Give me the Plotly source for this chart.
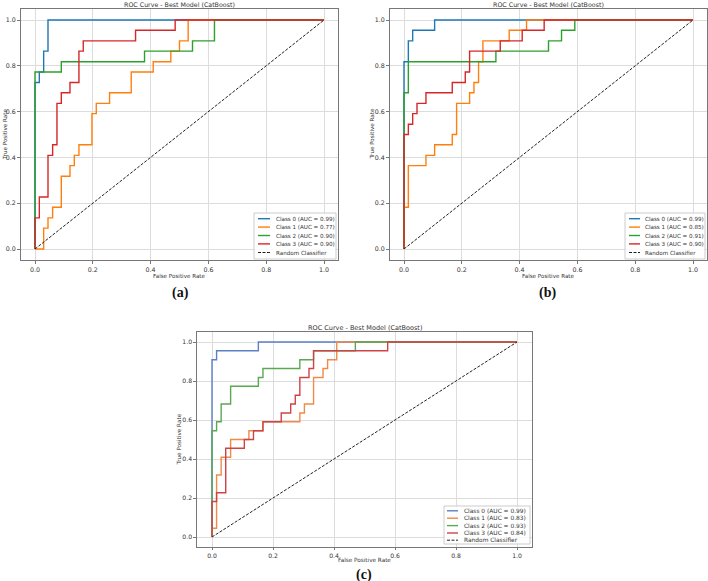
import plotly.graph_objects as go

W, H = 708, 581

# ---------------- data ----------------
CLASS_NAMES = ["Class 0", "Class 1", "Class 2", "Class 3"]
TICKS = [0.0, 0.2, 0.4, 0.6, 0.8, 1.0]
TICK_LABELS = ["0.0", "0.2", "0.4", "0.6", "0.8", "1.0"]

# panel (a)
A_AUC = [0.99, 0.77, 0.90, 0.90]
A_C0_FPR = [0, 0, 0.015, 0.030, 0.045, 1.0]
A_C0_TPR = [0, 0.727, 0.773, 0.864, 1.0, 1.0]
A_C1_FPR = [0, 0.030, 0.045, 0.061, 0.091, 0.121, 0.136, 0.152, 0.197, 0.212, 0.258, 0.333, 0.409, 0.470, 0.500, 0.530, 1.0]
A_C1_TPR = [0, 0.091, 0.136, 0.182, 0.318, 0.364, 0.409, 0.455, 0.591, 0.636, 0.682, 0.773, 0.818, 0.864, 0.909, 1.0, 1.0]
A_C2_FPR = [0, 0, 0.091, 0.379, 0.545, 0.621, 1.0]
A_C2_TPR = [0, 0.773, 0.818, 0.864, 0.909, 1.0, 1.0]
A_C3_FPR = [0, 0, 0.015, 0.045, 0.061, 0.076, 0.091, 0.121, 0.152, 0.167, 0.348, 0.485, 1.0]
A_C3_TPR = [0, 0.136, 0.227, 0.409, 0.455, 0.636, 0.682, 0.727, 0.864, 0.909, 0.955, 1.0, 1.0]

# panel (b)
B_AUC = [0.99, 0.85, 0.91, 0.90]
B_C0_FPR = [0, 0, 0.015, 0.030, 0.106, 1.0]
B_C0_TPR = [0, 0.818, 0.909, 0.955, 1.0, 1.0]
B_C1_FPR = [0, 0, 0.015, 0.076, 0.106, 0.167, 0.182, 0.227, 0.242, 0.258, 0.273, 0.364, 0.424, 1.0]
B_C1_TPR = [0, 0.182, 0.364, 0.409, 0.455, 0.500, 0.636, 0.682, 0.727, 0.818, 0.909, 0.955, 1.0, 1.0]
B_C2_FPR = [0, 0, 0.015, 0.318, 0.500, 0.545, 0.591, 1.0]
B_C2_TPR = [0, 0.682, 0.818, 0.864, 0.909, 0.955, 1.0, 1.0]
B_C3_FPR = [0, 0, 0.015, 0.030, 0.045, 0.076, 0.167, 0.212, 0.227, 0.333, 0.409, 0.485, 1.0]
B_C3_TPR = [0, 0.500, 0.545, 0.591, 0.636, 0.682, 0.727, 0.773, 0.864, 0.909, 0.955, 1.0, 1.0]

# panel (c)
C_AUC = [0.99, 0.83, 0.93, 0.84]
C_C0_FPR = [0, 0, 0.015, 0.152, 1.0]
C_C0_TPR = [0, 0.909, 0.955, 1.0, 1.0]
C_C1_FPR = [0, 0, 0.015, 0.030, 0.061, 0.121, 0.167, 0.288, 0.303, 0.333, 0.364, 0.379, 0.409, 1.0]
C_C1_TPR = [0, 0.045, 0.318, 0.409, 0.500, 0.545, 0.591, 0.636, 0.682, 0.818, 0.864, 0.909, 1.0, 1.0]
C_C2_FPR = [0, 0, 0.015, 0.030, 0.061, 0.152, 0.167, 0.288, 0.333, 0.470, 1.0]
C_C2_TPR = [0, 0.545, 0.591, 0.682, 0.773, 0.818, 0.864, 0.909, 0.955, 1.0, 1.0]
C_C3_FPR = [0, 0, 0.015, 0.045, 0.106, 0.136, 0.167, 0.227, 0.258, 0.273, 0.288, 0.318, 0.333, 0.576, 1.0]
C_C3_TPR = [0, 0.182, 0.227, 0.455, 0.500, 0.545, 0.591, 0.636, 0.682, 0.727, 0.818, 0.864, 0.955, 1.0, 1.0]

RANDOM_X = [0, 1]
RANDOM_Y = [0, 1]
RANDOM_NAME = "Random Classifier"

# ---------------- styling ----------------
FONT = "DejaVu Sans"
TAB = ["#1f77b4", "#ff7f0e", "#2ca02c", "#d62728"]
DEEP = ["#5b80c4", "#ee8a4a", "#5aa852", "#cc4448"]
DIAG_DASH = "3px,1.5px"


def px(x):
    return x / W


def py(y):
    return 1 - y / H


panels = [
    dict(fprs=[A_C0_FPR, A_C1_FPR, A_C2_FPR, A_C3_FPR], tprs=[A_C0_TPR, A_C1_TPR, A_C2_TPR, A_C3_TPR],
         auc=A_AUC, colors=TAB, xd=(20.55, 338.45), yd=(8.55, 260.45),
         title_y=4.5, fs_title=6.3, fs_lab=5.6, fs_tick=6.3, fs_leg=5.6,
         xlab_y=276, ylab_x=4.5,
         legbox=(254, 213, 336, 259), leg_line=(258, 270), leg_text=274,
         leg_rows=[218.7, 227.1, 235.5, 243.9, 252.5],
         cap=(180, 293, "(a)")),
    dict(fprs=[B_C0_FPR, B_C1_FPR, B_C2_FPR, B_C3_FPR], tprs=[B_C0_TPR, B_C1_TPR, B_C2_TPR, B_C3_TPR],
         auc=B_AUC, colors=TAB, xd=(389.55, 707.45), yd=(8.55, 260.45),
         title_y=4.5, fs_title=6.3, fs_lab=5.6, fs_tick=6.3, fs_leg=5.6,
         xlab_y=276, ylab_x=371,
         legbox=(625, 213, 705, 259), leg_line=(629, 640), leg_text=643,
         leg_rows=[218.7, 227.1, 235.5, 243.9, 252.5],
         cap=(547, 293, "(b)")),
    dict(fprs=[C_C0_FPR, C_C1_FPR, C_C2_FPR, C_C3_FPR], tprs=[C_C0_TPR, C_C1_TPR, C_C2_TPR, C_C3_TPR],
         auc=C_AUC, colors=DEEP, xd=(196.75, 532.25), yd=(332.25, 546.75),
         title_y=328, fs_title=6.5, fs_lab=5.7, fs_tick=6.1, fs_leg=5.9,
         xlab_y=560, ylab_x=178,
         legbox=(444, 506, 530, 544), leg_line=(447, 458), leg_text=462,
         leg_rows=[510.8, 518.2, 525.6, 533.0, 540.2],
         cap=(364, 575, "(c)")),
]

fig = go.Figure()
annotations = []
shapes = []
layout = {}

for i, p in enumerate(panels):
    n = "" if i == 0 else str(i + 1)
    xa, ya = "x" + n, "y" + n
    names = []
    for k in range(4):
        nm = f"{CLASS_NAMES[k]} (AUC = {p['auc'][k]:.2f})"
        names.append(nm)
        fig.add_trace(go.Scatter(
            x=p["fprs"][k], y=p["tprs"][k], mode="lines", line_shape="hv",
            line=dict(color=p["colors"][k], width=1.4),
            name=nm, xaxis=xa, yaxis=ya, showlegend=False))
    names.append(RANDOM_NAME)
    fig.add_trace(go.Scatter(
        x=RANDOM_X, y=RANDOM_Y, mode="lines",
        line=dict(color="#222222", width=1, dash=DIAG_DASH),
        name=RANDOM_NAME, xaxis=xa, yaxis=ya, showlegend=False))

    axcommon = dict(range=[-0.05, 1.05], tickvals=TICKS, ticktext=TICK_LABELS,
                    showgrid=True, gridcolor="#dcdcdc", gridwidth=1,
                    showline=True, linecolor="#777777", linewidth=1, mirror=True,
                    ticks="outside", ticklen=2.5, tickcolor="#777777",
                    tickfont=dict(family=FONT, size=p["fs_tick"], color="#333333"),
                    zeroline=False, fixedrange=True)
    layout["xaxis" + n] = dict(axcommon, domain=[px(p["xd"][0]), px(p["xd"][1])], anchor=ya)
    layout["yaxis" + n] = dict(axcommon, domain=[py(p["yd"][1]), py(p["yd"][0])], anchor=xa)

    cx = (p["xd"][0] + p["xd"][1]) / 2
    cy = (p["yd"][0] + p["yd"][1]) / 2
    annotations.append(dict(text="ROC Curve - Best Model (CatBoost)", x=px(cx), y=py(p["title_y"]),
                            xref="paper", yref="paper", showarrow=False, xanchor="center", yanchor="middle",
                            font=dict(family=FONT, size=p["fs_title"], color="#333333")))
    annotations.append(dict(text="False Positive Rate", x=px(cx), y=py(p["xlab_y"]),
                            xref="paper", yref="paper", showarrow=False, xanchor="center", yanchor="middle",
                            font=dict(family=FONT, size=p["fs_lab"], color="#333333")))
    annotations.append(dict(text="True Positive Rate", x=px(p["ylab_x"]), y=py(cy), textangle=-90,
                            xref="paper", yref="paper", showarrow=False, xanchor="center", yanchor="middle",
                            font=dict(family=FONT, size=p["fs_lab"], color="#333333")))
    annotations.append(dict(text="<b>" + p["cap"][2] + "</b>", x=px(p["cap"][0]), y=py(p["cap"][1]),
                            xref="paper", yref="paper", showarrow=False, xanchor="center", yanchor="middle",
                            font=dict(family="Liberation Serif", size=14, color="#111111")))

    # legend box (matplotlib-like)
    x0, y0, x1, y1 = p["legbox"]
    shapes.append(dict(type="rect", xref="paper", yref="paper",
                       x0=px(x0), x1=px(x1), y0=py(y1), y1=py(y0),
                       line=dict(color="#cccccc", width=1), fillcolor="rgba(255,255,255,0.85)",
                       layer="above"))
    colors = list(p["colors"]) + ["#222222"]
    for r, (nm, yy) in enumerate(zip(names, p["leg_rows"])):
        shapes.append(dict(type="line", xref="paper", yref="paper",
                           x0=px(p["leg_line"][0]), x1=px(p["leg_line"][1]), y0=py(yy), y1=py(yy),
                           line=dict(color=colors[r], width=1.4 if r < 4 else 1,
                                     dash="solid" if r < 4 else DIAG_DASH),
                           layer="above"))
        annotations.append(dict(text=nm, x=px(p["leg_text"]), y=py(yy), xref="paper", yref="paper",
                                showarrow=False, xanchor="left", yanchor="middle",
                                font=dict(family=FONT, size=p["fs_leg"], color="#333333")))

fig.update_layout(
    width=W, height=H, margin=dict(l=0, r=0, t=0, b=0),
    paper_bgcolor="white", plot_bgcolor="white",
    annotations=annotations, shapes=shapes, showlegend=False,
    **layout)

fig.write_html("out.html")
